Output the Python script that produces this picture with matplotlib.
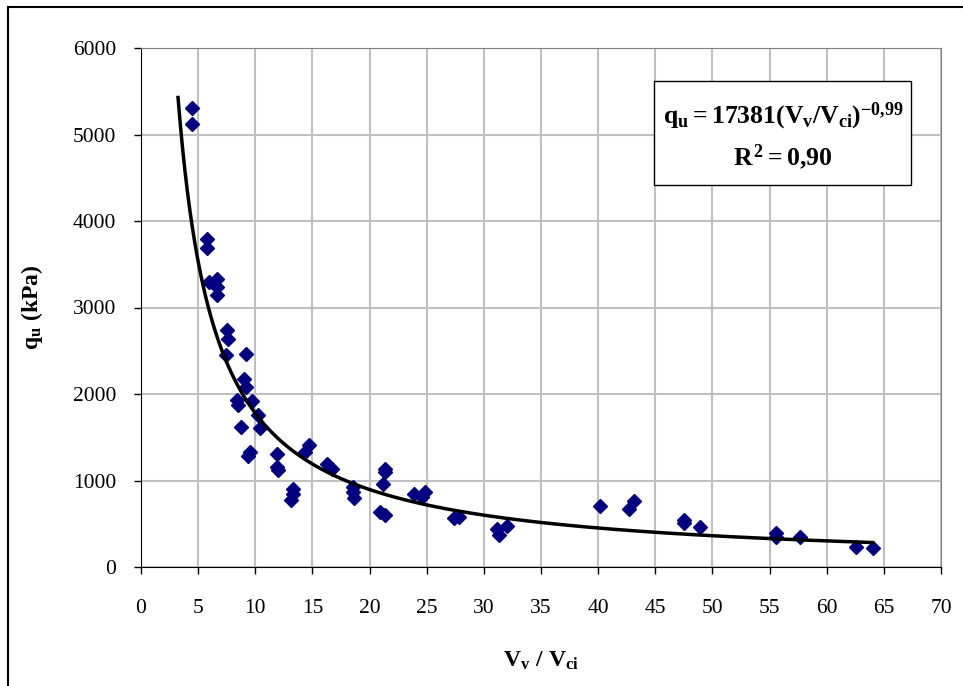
import numpy as np
import matplotlib
matplotlib.use("Agg")
import matplotlib.pyplot as plt
from matplotlib.lines import Line2D
from matplotlib.patches import Rectangle

plt.rcParams['font.family'] = ['Liberation Serif', 'DejaVu Serif']
plt.rcParams['mathtext.fontset'] = 'custom'
plt.rcParams['mathtext.rm'] = 'Liberation Serif:bold'
plt.rcParams['mathtext.it'] = 'Liberation Serif:bold'
plt.rcParams['mathtext.bf'] = 'Liberation Serif:bold'

# measured points (Vv/Vci, qu in kPa)
ratio = [4.44, 4.44, 5.78, 5.78, 5.93, 6.69, 6.69, 6.69, 7.56, 7.65,
         7.43, 9.2, 9.03, 9.2, 8.39, 8.53, 9.7, 10.28, 8.74, 10.37,
         9.55, 9.4, 11.89, 11.89, 12.03, 14.7, 14.37, 16.3, 16.7, 13.26,
         13.26, 13.15, 18.55, 18.55, 18.67, 21.38, 21.38, 21.18, 20.9, 21.38,
         23.87, 24.6, 24.83, 27.43, 27.81, 31.17, 31.32, 32.05, 40.17, 42.7,
         43.15, 47.48, 47.53, 48.93, 55.57, 55.57, 57.7, 62.58, 64.04]
qu = [5310, 5125, 3795, 3690, 3291, 3330, 3240, 3150, 2740, 2640,
      2451, 2462, 2175, 2085, 1930, 1873, 1923, 1757, 1622, 1603,
      1333, 1280, 1306, 1160, 1125, 1410, 1333, 1190, 1130, 905,
      844, 775, 928, 871, 800, 1135, 1102, 960, 640, 605,
      844, 813, 865, 563, 578, 436, 375, 474, 705, 665,
      767, 543, 505, 466, 397, 350, 350, 235, 218]

# power trendline shown in the box
coef = 17381
expo = -0.99
fit_start, fit_end = 3.24, 64.0

fig = plt.figure(figsize=(9.63, 6.86), dpi=100)
ax = fig.add_axes([141 / 963, 1 - 567 / 686, 800 / 963, 519 / 686])

ax.plot(ratio, qu, linestyle='none', marker='D', ms=7.5, color='#000080', zorder=3)

xf = np.linspace(fit_start, fit_end, 300)
ax.plot(xf, coef * xf ** expo, color='black', lw=2.5, zorder=4)

ax.set_xlim(0, 70)
ax.set_ylim(0, 6000)
ax.set_xticks(np.arange(0, 71, 5))
ax.set_yticks(np.arange(0, 6001, 1000))
ax.grid(True, color='#c0c0c0', lw=1.5)
ax.set_axisbelow(True)
ax.tick_params(axis='x', direction='out', length=5, width=1, pad=18, labelsize=15.5)
ax.tick_params(axis='y', direction='out', length=5, width=1, pad=13, labelsize=15.5)
for s in ['top', 'right']:
    ax.spines[s].set_color('#808080')
for s in ['left', 'bottom']:
    ax.spines[s].set_color('black')

ax.set_xlabel(r'$V_v\ /\ V_{ci}$', fontsize=17, labelpad=23)
ax.set_ylabel(r'$q_u\ (kPa)$', fontsize=17, labelpad=20)

# equation box
ax.add_patch(Rectangle((0.641, 0.736), 0.3215, 0.2, transform=ax.transAxes,
                       fc='white', ec='black', lw=1, zorder=5))
ax.text(0.8025, 0.868, r'$q_u = 17381(V_v/V_{ci})^{\mathrm{-0{,}99}}$',
        transform=ax.transAxes, ha='center', va='center', fontsize=18.5, zorder=6)
ax.text(0.8025, 0.79, r'$R^2 = 0{,}90$',
        transform=ax.transAxes, ha='center', va='center', fontsize=18.5, zorder=6)

# outer chart frame
fig.add_artist(Line2D([8 / 963, 1], [1 - 7 / 686, 1 - 7 / 686], color='black', lw=1.5, transform=fig.transFigure))
fig.add_artist(Line2D([8 / 963, 8 / 963], [0, 1 - 7 / 686], color='black', lw=1.5, transform=fig.transFigure))

fig.savefig('out.png', dpi=100)
